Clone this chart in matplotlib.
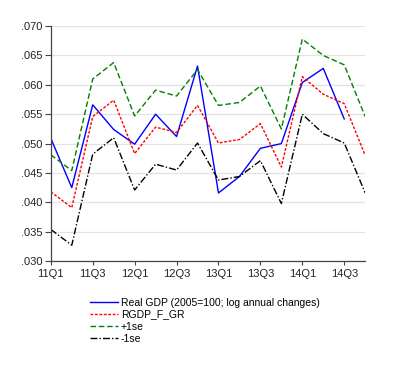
import numpy as np
import matplotlib
matplotlib.use("Agg")
import matplotlib.pyplot as plt
from matplotlib.ticker import FuncFormatter, MultipleLocator

plt.rcParams['font.family'] = ['Liberation Sans', 'DejaVu Sans']

# quarters 11Q1 .. 14Q4
quarters = [f"{y}Q{q}" for y in range(11, 15) for q in range(1, 5)]

# Real GDP (ends at 14Q3)
real_gdp = [0.0509, 0.0425, 0.0566, 0.0524, 0.0499, 0.0550, 0.0512, 0.0632,
            0.0416, 0.0444, 0.0492, 0.0500, 0.0604, 0.0628, 0.0542]
rgdp_f_gr = [0.0418, 0.0391, 0.0546, 0.0574, 0.0483, 0.0528, 0.0519, 0.0565,
             0.0501, 0.0507, 0.0534, 0.0460, 0.0614, 0.0584, 0.0568, 0.0480]
plus_1se = [0.0481, 0.0454, 0.0610, 0.0638, 0.0547, 0.0591, 0.0581, 0.0626,
            0.0565, 0.0570, 0.0598, 0.0525, 0.0678, 0.0650, 0.0634, 0.0546]
minus_1se = [0.0354, 0.0327, 0.0482, 0.0510, 0.0421, 0.0465, 0.0455, 0.0501,
             0.0438, 0.0444, 0.0471, 0.0398, 0.0550, 0.0517, 0.0501, 0.0416]

x = np.arange(len(quarters))

fig = plt.figure(figsize=(4.0, 3.73), dpi=100)
ax = fig.add_axes([0.127, 0.300, 0.786, 0.630])

ax.plot(x[:len(real_gdp)], real_gdp, color='#0000ff', lw=1.0,
        label='Real GDP (2005=100; log annual changes)')
ax.plot(x, rgdp_f_gr, color='#ff0000', lw=1.0, linestyle=(0, (2, 1.2)),
        label='RGDP_F_GR')
ax.plot(x, plus_1se, color='#008000', lw=1.0, linestyle=(0, (4, 2)),
        label='+1se')
ax.plot(x, minus_1se, color='black', lw=1.0, linestyle=(0, (5, 1.5, 1, 1.5)),
        label='-1se')

ax.set_xlim(0, 15)
ax.set_ylim(0.030, 0.070)
ax.yaxis.set_major_locator(MultipleLocator(0.005))
ax.yaxis.set_major_formatter(FuncFormatter(lambda v, p: f"{v:.3f}".lstrip('0')))
ax.set_xticks(x[::2])
ax.set_xticklabels(quarters[::2])
ax.grid(axis='y', color='#e3e3e3', lw=0.9)
ax.set_axisbelow(True)

for s in ['top', 'right']:
    ax.spines[s].set_visible(False)
for s in ['left', 'bottom']:
    ax.spines[s].set_color('#444444')
    ax.spines[s].set_linewidth(0.9)
ax.tick_params(direction='out', width=0.8, color='#444444', labelcolor='#222222',
               labelsize=8)
ax.tick_params(axis='y', length=4.5, pad=1.5)
ax.tick_params(axis='x', length=3, pad=3)

ax.legend(loc='upper left', bbox_to_anchor=(0.125, -0.155), frameon=False,
          fontsize=7.5, handlelength=2.7, handletextpad=0.25,
          labelspacing=0.2, borderpad=0, borderaxespad=0)

fig.savefig('out.png', dpi=100)
